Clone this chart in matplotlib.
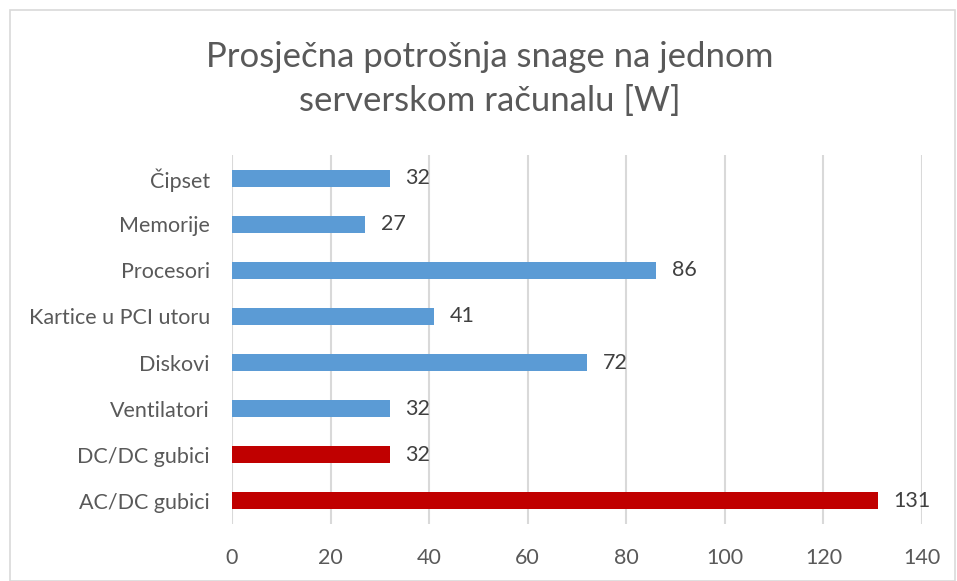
import matplotlib.pyplot as plt
from matplotlib.patches import Rectangle

# data (bottom to top)
categories = ['AC/DC gubici', 'DC/DC gubici', 'Ventilatori', 'Diskovi',
              'Kartice u PCI utoru', 'Procesori', 'Memorije', 'Čipset']
values = [131, 32, 32, 72, 41, 86, 27, 32]
bar_colors = ['#C00000', '#C00000', '#5B9BD5', '#5B9BD5',
              '#5B9BD5', '#5B9BD5', '#5B9BD5', '#5B9BD5']
xticks = [0, 20, 40, 60, 80, 100, 120, 140]

plt.rcParams['font.family'] = ['Lato', 'DejaVu Sans']

W, H = 957, 581
fig = plt.figure(figsize=(W / 100, H / 100), dpi=100)
fig.patches.append(Rectangle((10 / W, 0), 945 / W, 571 / H, transform=fig.transFigure,
                             fill=False, edgecolor='#d9d9d9', linewidth=1.2))

ax = fig.add_axes([232 / W, 1 - 524 / H, (922 - 232) / W, (524 - 155) / H])
ypos = list(range(len(categories)))
ax.barh(ypos, values, height=0.37, color=bar_colors, zorder=3)
for y, v in zip(ypos, values):
    ax.text(v + 3.2, y, str(v), va='center', ha='left', fontsize=15.5, color='#404040')

ax.set_xlim(0, 140)
ax.set_ylim(-0.5, len(categories) - 0.5)
ax.set_xticks(xticks)
ax.set_yticks(ypos)
ax.set_yticklabels(categories)
ax.tick_params(axis='both', length=0, labelsize=15.5, colors='#595959')
ax.tick_params(axis='x', pad=17)
ax.tick_params(axis='y', pad=16)
ax.grid(axis='x', color='#d9d9d9', linewidth=1.5, zorder=0)
for s in ax.spines.values():
    s.set_visible(False)

fig.text(490 / W, 1 - 79 / H, 'Prosječna potrošnja snage na jednom\nserverskom računalu [W]',
         ha='center', va='center', fontsize=25, color='#595959', linespacing=1.45)

fig.savefig('out.png', dpi=100)
